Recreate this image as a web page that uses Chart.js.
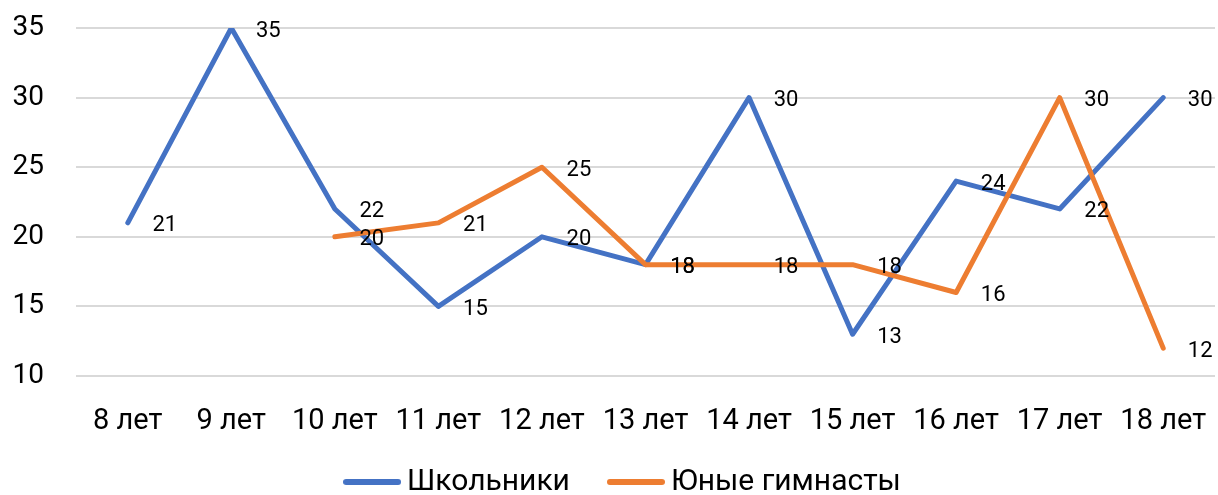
<!DOCTYPE html>
<html>
<head>
<meta charset="utf-8">
<script src="https://cdn.jsdelivr.net/npm/chart.js@4/dist/chart.umd.min.js"></script>
<style>
  html, body { margin: 0; padding: 0; background: #fff; }
  #wrap { width: 1218px; height: 495px; }
</style>
</head>
<body>
<div id="wrap"><canvas id="c" width="1218" height="495"></canvas></div>
<script>
const categories = ['8 лет', '9 лет', '10 лет', '11 лет', '12 лет', '13 лет', '14 лет', '15 лет', '16 лет', '17 лет', '18 лет'];
const schoolValues = [21, 35, 22, 15, 20, 18, 30, 13, 24, 22, 30];
const gymnastValues = [null, null, 20, 21, 25, 18, 18, 18, 16, 30, 12];
const seriesNames = ['Школьники', 'Юные гимнасты'];
const yTicks = [10, 15, 20, 25, 30, 35];

const FONT = 'Roboto, "Noto Sans", sans-serif';

function lineIcon(color) {
  const c = document.createElement('canvas');
  c.width = 58; c.height = 8;
  const g = c.getContext('2d');
  g.strokeStyle = color; g.lineWidth = 6; g.lineCap = 'round';
  g.beginPath(); g.moveTo(3, 4); g.lineTo(55, 4); g.stroke();
  return c;
}

const valueLabels = {
  id: 'valueLabels',
  afterDatasetsDraw(chart) {
    const ctx = chart.ctx;
    ctx.save();
    ctx.font = '22px ' + FONT;
    ctx.fillStyle = '#000';
    ctx.textAlign = 'center';
    ctx.textBaseline = 'middle';
    chart.data.datasets.forEach((ds, i) => {
      const meta = chart.getDatasetMeta(i);
      meta.data.forEach((pt, j) => {
        const v = ds.data[j];
        if (v === null || v === undefined) return;
        ctx.fillText(String(v), pt.x + 37, pt.y + 3);
      });
    });
    ctx.restore();
  }
};

const legendFix = {
  id: 'legendFix',
  beforeLayout(chart) {
    const lg = chart.legend;
    if (lg && !lg._fixed) {
      const orig = lg.fit.bind(lg);
      lg.fit = function () { orig(); this.height = 64; };
      lg._fixed = true;
    }
  },
  afterLayout(chart) {
    const lg = chart.legend;
    if (lg) { lg.left += 19; lg.right += 19; lg.top -= 10; }
  }
};

new Chart(document.getElementById('c'), {
  type: 'line',
  data: {
    labels: categories,
    datasets: [
      {
        label: seriesNames[0],
        data: schoolValues,
        borderColor: '#4472C4',
        backgroundColor: '#4472C4',
        borderWidth: 5,
        pointRadius: 0,
        pointStyle: lineIcon('#4472C4'),
        borderCapStyle: 'round',
        borderJoinStyle: 'round',
        tension: 0,
        order: 1
      },
      {
        label: seriesNames[1],
        data: gymnastValues,
        borderColor: '#ED7D31',
        backgroundColor: '#ED7D31',
        borderWidth: 5,
        pointRadius: 0,
        pointStyle: lineIcon('#ED7D31'),
        borderCapStyle: 'round',
        borderJoinStyle: 'round',
        tension: 0,
        order: 0
      }
    ]
  },
  options: {
    responsive: false,
    animation: false,
    devicePixelRatio: 1,
    layout: { padding: { top: 28, right: 3, left: 0, bottom: 0 } },
    scales: {
      x: {
        type: 'category',
        offset: true,
        grid: { display: false, drawTicks: false },
        border: { display: false },
        ticks: { color: '#000', font: { family: FONT, size: 29 }, padding: 28, maxRotation: 0, autoSkip: false },
        afterFit(s) { s.height = 55; s.paddingLeft = 0; s.paddingRight = 0; }
      },
      y: {
        min: 10,
        max: 35,
        afterBuildTicks(s) { s.ticks = yTicks.map(v => ({ value: v })); },
        grid: { color: '#d9d9d9', lineWidth: 2, drawTicks: false },
        border: { display: false },
        ticks: { color: '#000', font: { family: FONT, size: 28 }, padding: 32 },
        afterFit(s) { s.width = 76; s.paddingTop = 20; s.paddingBottom = 0; }
      }
    },
    plugins: {
      legend: {
        position: 'bottom',
        labels: {
          color: '#000',
          font: { family: FONT, size: 30 },
          usePointStyle: true,
          pointStyleWidth: 40,
          boxHeight: 6,
          padding: 46,
          sort: (a, b) => a.datasetIndex - b.datasetIndex
        }
      },
      tooltip: { enabled: false }
    }
  },
  plugins: [valueLabels, legendFix]
});
</script>
</body>
</html>
